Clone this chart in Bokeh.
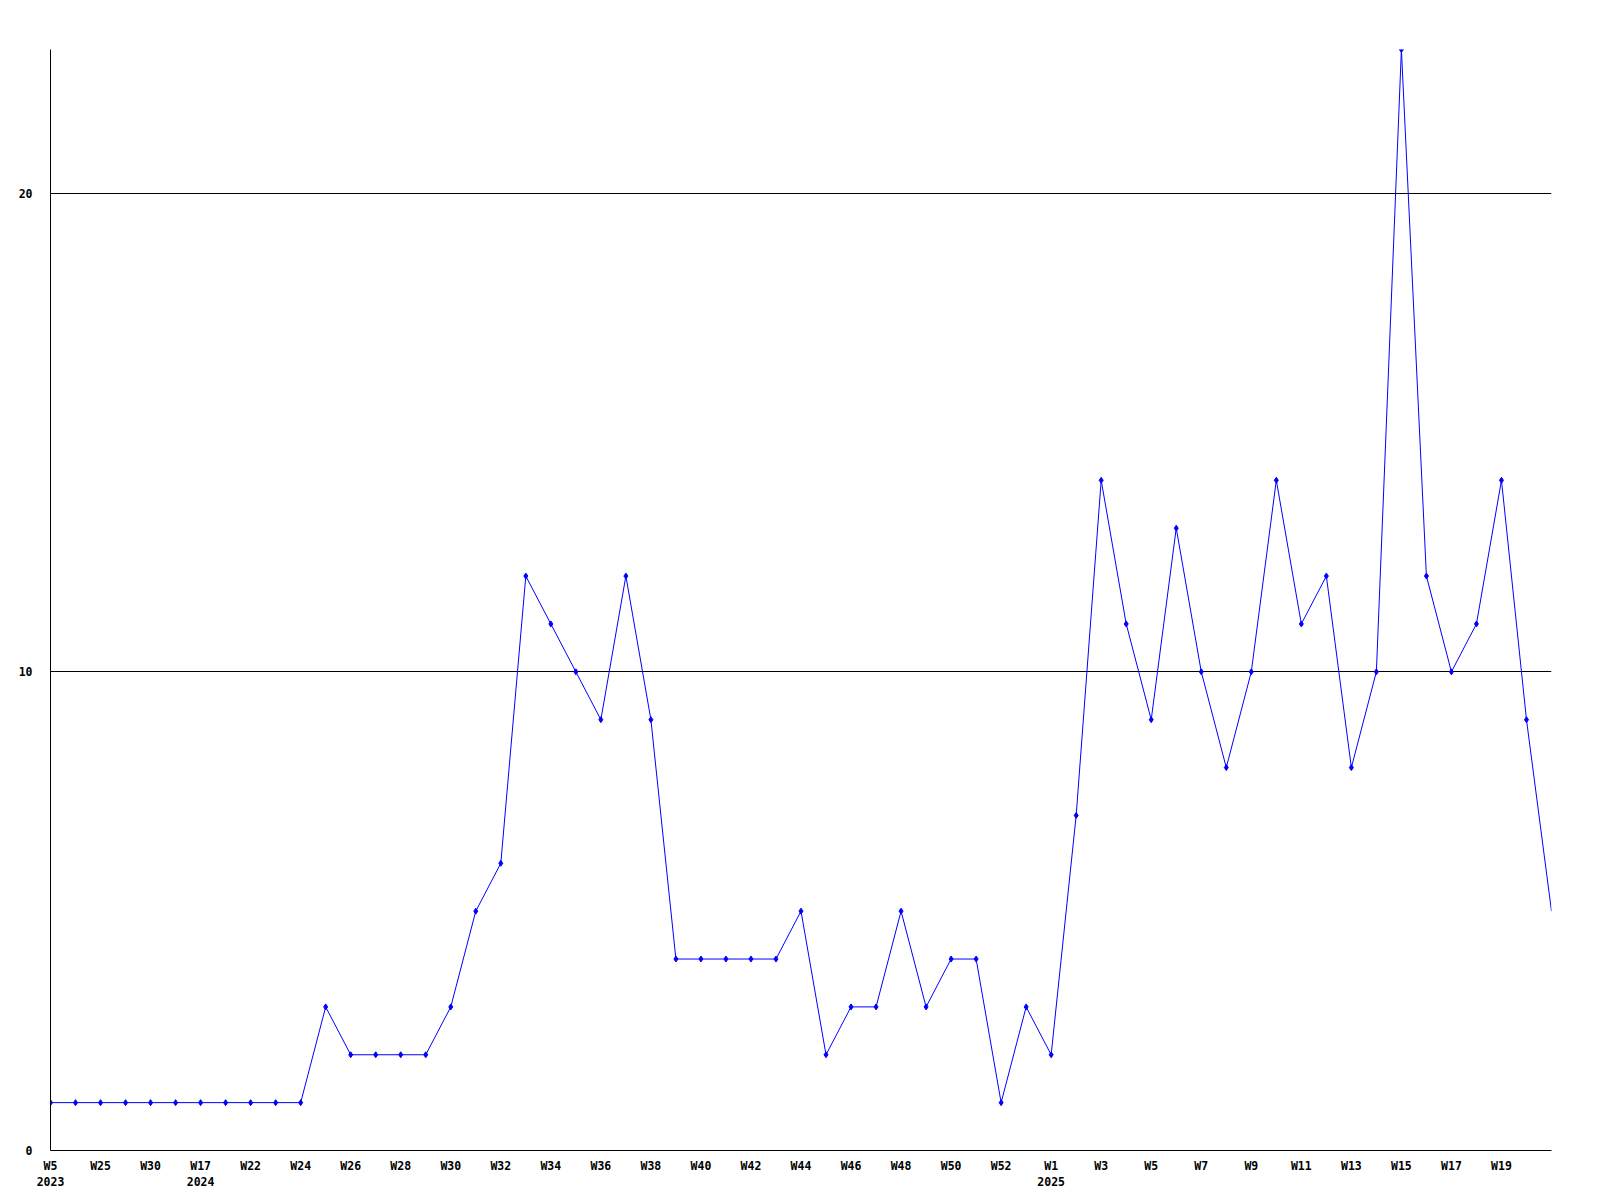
from bokeh.plotting import figure
from bokeh.models import Range1d, FixedTicker, ColumnDataSource
from bokeh.embed import file_html
from bokeh.resources import INLINE

weeks = ["W5\n2023", "W20", "W25", "W28", "W30", "W35", "W17\n2024", "W20",
         "W22", "W23", "W24", "W25", "W26", "W27", "W28", "W29", "W30", "W31",
         "W32", "W33", "W34", "W35", "W36", "W37", "W38", "W39", "W40", "W41",
         "W42", "W43", "W44", "W45", "W46", "W47", "W48", "W49", "W50", "W51",
         "W52", "W53", "W1\n2025", "W2", "W3", "W4", "W5", "W6", "W7", "W8",
         "W9", "W10", "W11", "W12", "W13", "W14", "W15", "W16", "W17", "W18",
         "W19", "W20", "W21"]
counts = [1, 1, 1, 1, 1, 1, 1, 1, 1, 1, 1, 3, 2, 2, 2, 2, 3, 5, 6, 12, 11,
          10, 9, 12, 9, 4, 4, 4, 4, 4, 5, 2, 3, 3, 5, 3, 4, 4, 1, 3, 2, 7,
          14, 11, 9, 13, 10, 8, 10, 14, 11, 12, 8, 10, 23, 12, 10, 11, 14, 9, 5]
y_ticks = [0, 10, 20]

xs = list(range(len(counts)))
src = ColumnDataSource(dict(x=xs, y=counts))

p = figure(width=1585, height=1192, output_backend="svg", toolbar_location=None,
           x_range=Range1d(0, len(counts) - 1), y_range=Range1d(0, 23),
           min_border_left=50, min_border_right=34, min_border_top=49,
           min_border_bottom=42)
p.outline_line_color = None
p.background_fill_color = "white"
p.border_fill_color = "white"

p.line("x", "y", source=src, line_color="#0000ff", line_width=1)
p.scatter("x", "y", source=ColumnDataSource(dict(x=xs[:-1], y=counts[:-1])),
          marker="diamond", size=6, color="#0000ff")

p.xgrid.grid_line_color = None
p.ygrid.grid_line_color = "black"
p.ygrid.grid_line_alpha = 1
p.ygrid.ticker = FixedTicker(ticks=y_ticks)

font = "DejaVu Sans Mono"
tick_idx = list(range(0, len(counts) - 1, 2))
p.xaxis.ticker = FixedTicker(ticks=tick_idx)
p.xaxis.major_label_overrides = {i: weeks[i] for i in tick_idx}
p.yaxis.ticker = FixedTicker(ticks=y_ticks)
for ax in (p.xaxis[0], p.yaxis[0]):
    ax.axis_line_color = "black"
    ax.axis_line_width = 1
    ax.major_tick_line_color = None
    ax.minor_tick_line_color = None
    ax.major_label_text_font = font
    ax.major_label_text_font_style = "bold"
    ax.major_label_text_font_size = "11.5px"
    ax.major_label_text_color = "black"
p.xaxis.major_label_standoff = 2
p.yaxis.major_label_standoff = 12

open("out.html", "w").write(file_html(p, INLINE))
